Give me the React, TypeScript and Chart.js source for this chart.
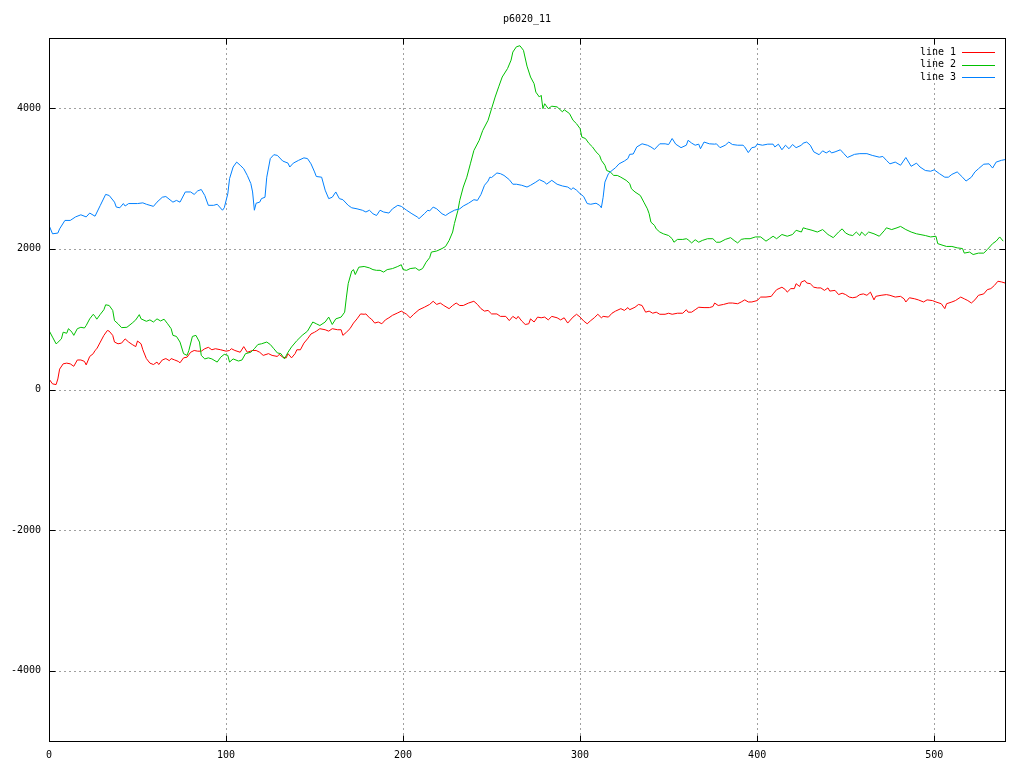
import React, { useEffect, useRef } from "react";
import { Chart, registerables } from "chart.js";

Chart.register(...registerables);

const TITLE = "p6020_11";
const SERIES_NAMES = ["line 1", "line 2", "line 3"];
const SERIES_COLORS = ["#ff0000", "#00c000", "#0080ff"];
const X_MIN = 0;
const X_MAX = 540;
const Y_MIN = -5000;
const Y_MAX = 5000;
const X_TICKS = [0, 100, 200, 300, 400, 500];
const Y_TICKS = [-4000, -2000, 0, 2000, 4000];

const line1X = [0, 2, 4, 5, 6, 8, 10, 12, 14, 16, 18, 20, 21, 23, 25, 26, 27, 29, 31, 33, 34, 36, 37, 39, 41, 43, 45, 47, 49, 50, 52, 53, 55, 57, 59, 61, 62, 64, 66, 68, 69, 71, 73, 74, 76, 78, 80, 82, 84, 86, 88, 90, 92, 94, 97, 100, 102, 103, 105, 108, 110, 112, 115, 117, 119, 121, 124, 126, 129, 130, 132, 134, 135, 137, 139, 140, 142, 144, 146, 148, 150, 151, 153, 156, 158, 160, 163, 165, 166, 168, 170, 172, 174, 176, 178, 179, 181, 182, 184, 186, 188, 190, 192, 194, 197, 199, 200, 202, 204, 206, 209, 212, 215, 217, 219, 221, 223, 226, 228, 230, 232, 234, 237, 240, 242, 244, 246, 248, 250, 253, 255, 258, 260, 262, 264, 265, 267, 269, 271, 272, 274, 276, 278, 280, 282, 284, 287, 289, 291, 293, 296, 298, 300, 302, 304, 306, 308, 310, 312, 313, 316, 318, 320, 323, 325, 327, 328, 331, 333, 335, 337, 339, 341, 343, 345, 348, 350, 352, 355, 358, 360, 361, 363, 365, 367, 370, 373, 375, 376, 378, 381, 384, 386, 389, 391, 393, 395, 397, 400, 402, 405, 408, 409, 411, 414, 416, 417, 419, 421, 422, 424, 425, 427, 428, 430, 432, 434, 436, 438, 440, 441, 444, 446, 448, 450, 452, 454, 456, 458, 460, 462, 464, 466, 467, 470, 473, 475, 478, 481, 483, 484, 486, 489, 491, 494, 496, 499, 501, 504, 506, 507, 510, 512, 515, 517, 519, 521, 523, 525, 528, 530, 532, 534, 536, 538, 540];
const line1Y = [150, 80, 70, 150, 290, 365, 375, 365, 330, 420, 420, 400, 350, 470, 510, 555, 580, 675, 770, 840, 830, 770, 675, 650, 660, 720, 675, 640, 610, 690, 650, 565, 440, 375, 355, 390, 355, 420, 440, 410, 440, 420, 400, 380, 450, 460, 530, 555, 545, 545, 580, 600, 565, 580, 565, 545, 555, 580, 555, 530, 610, 530, 555, 555, 530, 485, 510, 485, 470, 500, 460, 450, 510, 450, 510, 565, 565, 660, 720, 790, 815, 830, 865, 850, 830, 865, 850, 850, 770, 815, 865, 945, 1005, 1075, 1070, 1075, 1020, 1005, 945, 960, 935, 990, 1020, 1055, 1090, 1115, 1100, 1070, 1020, 1070, 1135, 1170, 1210, 1255, 1210, 1230, 1195, 1150, 1195, 1230, 1195, 1195, 1230, 1255, 1210, 1150, 1115, 1125, 1075, 1075, 1040, 1040, 980, 1040, 1005, 1040, 975, 925, 935, 1005, 960, 1030, 1020, 1030, 990, 1040, 1020, 990, 1020, 945, 1030, 1070, 1030, 975, 935, 980, 1020, 1070, 1020, 1040, 1030, 1085, 1115, 1150, 1125, 1165, 1135, 1170, 1210, 1195, 1100, 1115, 1085, 1100, 1070, 1070, 1085, 1070, 1085, 1085, 1135, 1100, 1100, 1135, 1170, 1165, 1165, 1180, 1230, 1195, 1210, 1230, 1230, 1220, 1245, 1275, 1245, 1245, 1265, 1315, 1315, 1325, 1360, 1420, 1455, 1420, 1385, 1435, 1435, 1505, 1465, 1530, 1550, 1515, 1505, 1455, 1445, 1445, 1410, 1445, 1400, 1410, 1350, 1370, 1350, 1315, 1305, 1315, 1350, 1360, 1340, 1385, 1275, 1325, 1340, 1350, 1340, 1315, 1325, 1290, 1245, 1305, 1290, 1275, 1245, 1275, 1265, 1245, 1220, 1150, 1220, 1245, 1265, 1315, 1290, 1265, 1230, 1275, 1340, 1360, 1420, 1435, 1480, 1540, 1530, 1515];

const line2X = [0, 2, 4, 5, 7, 8, 10, 11, 13, 14, 16, 18, 20, 21, 23, 25, 26, 27, 29, 31, 32, 34, 36, 37, 39, 41, 44, 47, 49, 51, 52, 55, 57, 59, 61, 63, 65, 67, 69, 70, 72, 74, 76, 78, 79, 81, 83, 85, 86, 88, 90, 92, 95, 97, 99, 101, 102, 104, 107, 109, 111, 114, 116, 118, 120, 123, 125, 127, 129, 131, 133, 135, 137, 140, 143, 146, 149, 151, 153, 156, 158, 160, 162, 165, 167, 168, 169, 171, 172, 173, 175, 178, 181, 183, 185, 187, 189, 191, 194, 197, 199, 200, 202, 204, 207, 209, 211, 213, 215, 216, 219, 222, 224, 226, 228, 229, 231, 232, 234, 236, 238, 240, 243, 245, 248, 250, 252, 254, 256, 259, 261, 262, 264, 266, 268, 270, 272, 274, 275, 277, 278, 279, 280, 282, 284, 287, 290, 291, 294, 296, 298, 300, 301, 303, 305, 307, 309, 311, 312, 314, 315, 317, 319, 321, 323, 326, 328, 329, 331, 334, 336, 338, 339, 340, 342, 343, 345, 347, 350, 352, 353, 355, 358, 360, 361, 363, 365, 367, 369, 372, 375, 377, 379, 382, 385, 387, 389, 391, 393, 396, 399, 402, 405, 407, 409, 411, 414, 417, 420, 422, 425, 426, 428, 431, 434, 437, 440, 441, 443, 446, 448, 450, 452, 454, 456, 458, 459, 461, 463, 466, 469, 472, 473, 476, 479, 481, 484, 487, 490, 492, 495, 498, 501, 502, 505, 507, 510, 513, 516, 517, 520, 522, 525, 528, 530, 533, 535, 537, 539];
const line2Y = [840, 745, 650, 670, 720, 815, 800, 865, 815, 770, 865, 885, 875, 910, 1005, 1070, 1040, 1000, 1070, 1135, 1205, 1195, 1125, 980, 935, 880, 885, 945, 990, 1065, 1005, 970, 990, 960, 1005, 975, 1000, 935, 865, 770, 755, 675, 510, 485, 555, 755, 770, 675, 485, 435, 450, 435, 390, 460, 500, 485, 390, 435, 405, 420, 510, 530, 580, 640, 650, 675, 640, 580, 520, 510, 435, 530, 605, 695, 770, 830, 960, 935, 910, 960, 1030, 925, 1005, 1030, 1100, 1315, 1505, 1685, 1705, 1635, 1740, 1750, 1730, 1705, 1695, 1695, 1670, 1705, 1720, 1750, 1775, 1705, 1695, 1720, 1730, 1695, 1720, 1810, 1875, 1955, 1970, 2005, 2035, 2120, 2240, 2360, 2550, 2690, 2880, 3020, 3210, 3400, 3545, 3685, 3830, 3995, 4160, 4305, 4445, 4565, 4685, 4800, 4875, 4890, 4825, 4600, 4445, 4350, 4230, 4160, 4185, 3995, 4065, 3995, 4030, 4020, 3950, 3980, 3925, 3830, 3780, 3710, 3590, 3570, 3500, 3450, 3380, 3330, 3260, 3190, 3115, 3095, 3045, 3045, 3020, 2975, 2930, 2855, 2810, 2760, 2665, 2570, 2500, 2380, 2335, 2285, 2240, 2215, 2190, 2145, 2095, 2135, 2135, 2145, 2130, 2085, 2130, 2095, 2120, 2145, 2145, 2095, 2095, 2135, 2160, 2120, 2085, 2135, 2145, 2145, 2170, 2170, 2110, 2145, 2180, 2145, 2205, 2180, 2205, 2265, 2240, 2300, 2285, 2265, 2240, 2275, 2205, 2190, 2160, 2240, 2285, 2225, 2200, 2190, 2240, 2190, 2240, 2190, 2240, 2215, 2180, 2265, 2300, 2275, 2300, 2320, 2275, 2240, 2215, 2205, 2190, 2170, 2180, 2075, 2050, 2035, 2035, 2015, 2005, 1940, 1955, 1920, 1940, 1940, 1990, 2075, 2110, 2170, 2110];

const line3X = [0, 2, 5, 6, 9, 12, 15, 18, 21, 23, 26, 29, 32, 34, 37, 38, 40, 42, 43, 45, 50, 53, 55, 59, 61, 64, 66, 70, 72, 74, 77, 80, 82, 84, 86, 88, 90, 93, 95, 98, 99, 101, 102, 104, 106, 108, 110, 112, 114, 115, 116, 117, 119, 120, 122, 123, 125, 127, 129, 132, 135, 136, 138, 141, 144, 146, 148, 150, 151, 154, 156, 158, 160, 162, 164, 166, 169, 171, 174, 177, 179, 181, 183, 185, 187, 189, 192, 194, 197, 199, 202, 205, 208, 209, 212, 214, 215, 217, 219, 222, 224, 226, 229, 232, 234, 237, 240, 242, 244, 246, 248, 249, 250, 253, 255, 257, 260, 262, 264, 267, 270, 272, 275, 277, 280, 281, 284, 287, 290, 293, 295, 296, 298, 300, 302, 304, 306, 309, 311, 312, 313, 314, 316, 318, 320, 322, 325, 327, 328, 330, 332, 335, 338, 340, 342, 345, 348, 350, 352, 354, 357, 360, 361, 363, 365, 367, 368, 370, 373, 376, 377, 379, 382, 384, 386, 389, 392, 393, 395, 397, 399, 400, 403, 406, 409, 410, 412, 414, 416, 418, 420, 422, 425, 426, 428, 430, 432, 435, 437, 439, 441, 442, 444, 447, 449, 451, 455, 458, 462, 465, 469, 471, 473, 475, 478, 481, 484, 487, 490, 492, 495, 498, 500, 503, 506, 508, 510, 513, 516, 518, 521, 523, 525, 528, 531, 533, 535, 538, 540];
const line3Y = [2335, 2215, 2225, 2285, 2405, 2405, 2455, 2485, 2455, 2510, 2465, 2620, 2775, 2760, 2665, 2595, 2585, 2645, 2610, 2645, 2645, 2655, 2635, 2605, 2665, 2735, 2745, 2665, 2690, 2665, 2810, 2810, 2775, 2825, 2845, 2760, 2620, 2620, 2635, 2550, 2585, 2785, 3000, 3165, 3235, 3190, 3140, 3045, 2930, 2810, 2550, 2650, 2665, 2715, 2735, 3020, 3285, 3340, 3330, 3250, 3220, 3165, 3220, 3260, 3295, 3285, 3210, 3095, 3030, 3020, 2835, 2715, 2735, 2810, 2715, 2700, 2620, 2585, 2570, 2550, 2525, 2550, 2500, 2475, 2550, 2525, 2510, 2570, 2620, 2605, 2550, 2500, 2455, 2430, 2500, 2550, 2540, 2595, 2570, 2500, 2475, 2510, 2550, 2570, 2610, 2650, 2700, 2690, 2775, 2905, 2965, 3020, 3015, 3080, 3070, 3045, 2985, 2920, 2920, 2905, 2880, 2905, 2950, 2985, 2950, 2920, 2975, 2920, 2895, 2880, 2845, 2870, 2835, 2785, 2745, 2645, 2635, 2650, 2620, 2585, 2735, 2950, 3070, 3115, 3155, 3210, 3250, 3285, 3345, 3350, 3450, 3495, 3475, 3450, 3415, 3495, 3495, 3485, 3570, 3490, 3440, 3475, 3545, 3505, 3475, 3490, 3425, 3520, 3495, 3490, 3495, 3440, 3475, 3520, 3485, 3475, 3475, 3450, 3370, 3440, 3450, 3490, 3475, 3490, 3490, 3450, 3490, 3410, 3475, 3425, 3485, 3440, 3475, 3505, 3520, 3475, 3380, 3340, 3395, 3365, 3395, 3365, 3380, 3410, 3355, 3300, 3345, 3355, 3355, 3330, 3305, 3315, 3260, 3210, 3235, 3190, 3300, 3175, 3220, 3165, 3115, 3105, 3125, 3070, 3020, 3020, 3060, 3095, 3020, 2965, 3020, 3095, 3140, 3205, 3210, 3150, 3235, 3260, 3270];

const SERIES_X = [line1X, line2X, line3X];
const SERIES_Y = [line1Y, line2Y, line3Y];

const FONT = "'DejaVu Sans Mono', monospace";

const gnuplotPlugin = {
  id: "gnuplotFrame",
  beforeDatasetsDraw(chart: any) {
    const { ctx, chartArea: a, scales } = chart;
    ctx.save();
    ctx.strokeStyle = "#a0a0a0";
    ctx.lineWidth = 1;
    ctx.setLineDash([2, 3]);
    for (const v of X_TICKS) {
      const px = Math.round(scales.x.getPixelForValue(v)) + 0.5;
      if (px <= a.left + 1 || px >= a.right - 1) continue;
      ctx.beginPath();
      ctx.moveTo(px, a.top);
      ctx.lineTo(px, a.bottom);
      ctx.stroke();
    }
    for (const v of Y_TICKS) {
      const py = Math.round(scales.y.getPixelForValue(v)) + 0.5;
      ctx.beginPath();
      ctx.moveTo(a.left, py);
      ctx.lineTo(a.right, py);
      ctx.stroke();
    }
    ctx.restore();
  },
  afterDatasetsDraw(chart: any) {
    const { ctx, chartArea: a, scales } = chart;
    const L = Math.round(a.left) + 0.5;
    const R = Math.round(a.right) + 0.5;
    const T = Math.round(a.top) + 0.5;
    const B = Math.round(a.bottom) + 0.5;
    ctx.save();
    ctx.setLineDash([]);
    ctx.strokeStyle = "#000000";
    ctx.lineWidth = 1;
    ctx.strokeRect(L, T, R - L, B - T);
    const tl = 6;
    ctx.beginPath();
    for (const v of X_TICKS) {
      const px = Math.round(scales.x.getPixelForValue(v)) + 0.5;
      ctx.moveTo(px, B);
      ctx.lineTo(px, B - tl);
      ctx.moveTo(px, T);
      ctx.lineTo(px, T + tl);
    }
    for (const v of Y_TICKS) {
      const py = Math.round(scales.y.getPixelForValue(v)) + 0.5;
      ctx.moveTo(L, py);
      ctx.lineTo(L + tl, py);
      ctx.moveTo(R, py);
      ctx.lineTo(R - tl, py);
    }
    ctx.stroke();

    // title
    ctx.fillStyle = "#000000";
    ctx.font = `10px ${FONT}`;
    ctx.textAlign = "center";
    ctx.textBaseline = "middle";
    ctx.fillText(TITLE, (a.left + a.right) / 2, 19);

    // legend
    const rows = [52, 64.5, 77];
    ctx.textAlign = "right";
    SERIES_NAMES.forEach((name, i) => {
      const y = rows[i];
      ctx.fillStyle = "#000000";
      ctx.fillText(name, 956, y);
      ctx.strokeStyle = SERIES_COLORS[i];
      ctx.beginPath();
      ctx.moveTo(962, Math.round(y) + 0.5);
      ctx.lineTo(995, Math.round(y) + 0.5);
      ctx.stroke();
    });
    ctx.restore();
  },
};

export default function App() {
  const canvasRef = useRef<HTMLCanvasElement | null>(null);

  useEffect(() => {
    const canvas = canvasRef.current;
    if (!canvas) return;
    const datasets = SERIES_NAMES.map((name, i) => ({
      label: name,
      data: SERIES_X[i].map((x, j) => ({ x, y: SERIES_Y[i][j] })),
      borderColor: SERIES_COLORS[i],
      backgroundColor: SERIES_COLORS[i],
      borderWidth: 1,
      pointRadius: 0,
      tension: 0,
      fill: false,
      order: SERIES_NAMES.length - i,
    }));
    const tickFont = { family: FONT, size: 10 };
    const chart = new Chart(canvas, {
      type: "line",
      data: { datasets },
      options: {
        animation: false,
        responsive: false,
        devicePixelRatio: 1,
        layout: { padding: { left: 0, right: 19, top: 38, bottom: 0 } },
        plugins: {
          legend: { display: false },
          title: { display: false },
          tooltip: { enabled: false },
        },
        scales: {
          x: {
            type: "linear",
            min: X_MIN,
            max: X_MAX,
            grid: { display: false, drawTicks: false },
            border: { display: false },
            ticks: {
              color: "#000000",
              font: tickFont,
              padding: 8,
              maxRotation: 0,
              autoSkip: false,
              callback: (v: any) => String(v),
            },
            afterBuildTicks: (s: any) => {
              s.ticks = X_TICKS.map((v) => ({ value: v }));
            },
            afterFit: (s: any) => {
              s.height = 27;
            },
          },
          y: {
            type: "linear",
            min: Y_MIN,
            max: Y_MAX,
            grid: { display: false, drawTicks: false },
            border: { display: false },
            ticks: {
              color: "#000000",
              font: tickFont,
              padding: 8,
              autoSkip: false,
              callback: (v: any) => String(v),
            },
            afterBuildTicks: (s: any) => {
              s.ticks = Y_TICKS.map((v) => ({ value: v }));
            },
            afterFit: (s: any) => {
              s.width = 49;
            },
          },
        },
      } as any,
      plugins: [gnuplotPlugin],
    });
    return () => chart.destroy();
  }, []);

  return (
    <div style={{ position: "absolute", left: 0, top: 0, width: 1024, height: 768, background: "#ffffff" }}>
      <canvas ref={canvasRef} width={1024} height={768} style={{ display: "block", width: 1024, height: 768 }} />
    </div>
  );
}
